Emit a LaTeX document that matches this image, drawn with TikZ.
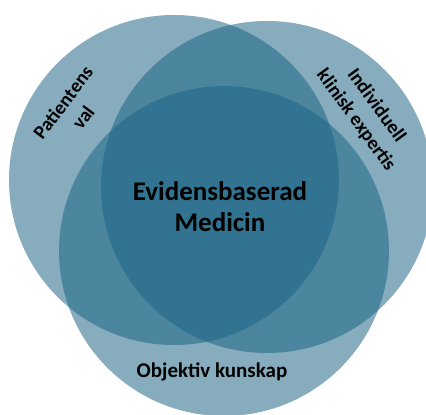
\documentclass[tikz,border=0pt]{standalone}
\usepackage{fontspec}
\setmainfont{Carlito}
\definecolor{vennBlue}{RGB}{26,99,131}
\tikzset{
  vennDisc/.style={fill=vennBlue, fill opacity=0.53},
  vennText/.style 2 args={font=\bfseries\fontsize{#1}{#2}\selectfont, align=center, inner sep=0pt},
}

\begin{document}
\begin{tikzpicture}[x=1pt,y=-1pt]
\useasboundingbox (0,0) rectangle (426,415);
% the three discs
\fill[vennDisc] (174,180) circle [radius=165pt];
\fill[vennDisc] (267,187) circle [radius=166pt];
\fill[vennDisc] (224,251) circle [radius=165pt];
% labels
\node[vennText={19.5}{25}, rotate=53] (patient) at (73,110) {Patientens\\val};
\node[vennText={19.5}{25}, rotate=-54] (expert) at (366,113) {Individuell\\klinisk expertis};
\node[vennText={27}{31}] (ebm) at (220,207) {Evidensbaserad\\Medicin};
\node[vennText={21}{25}] (kunskap) at (212,372) {Objektiv kunskap};
\end{tikzpicture}
\end{document}
